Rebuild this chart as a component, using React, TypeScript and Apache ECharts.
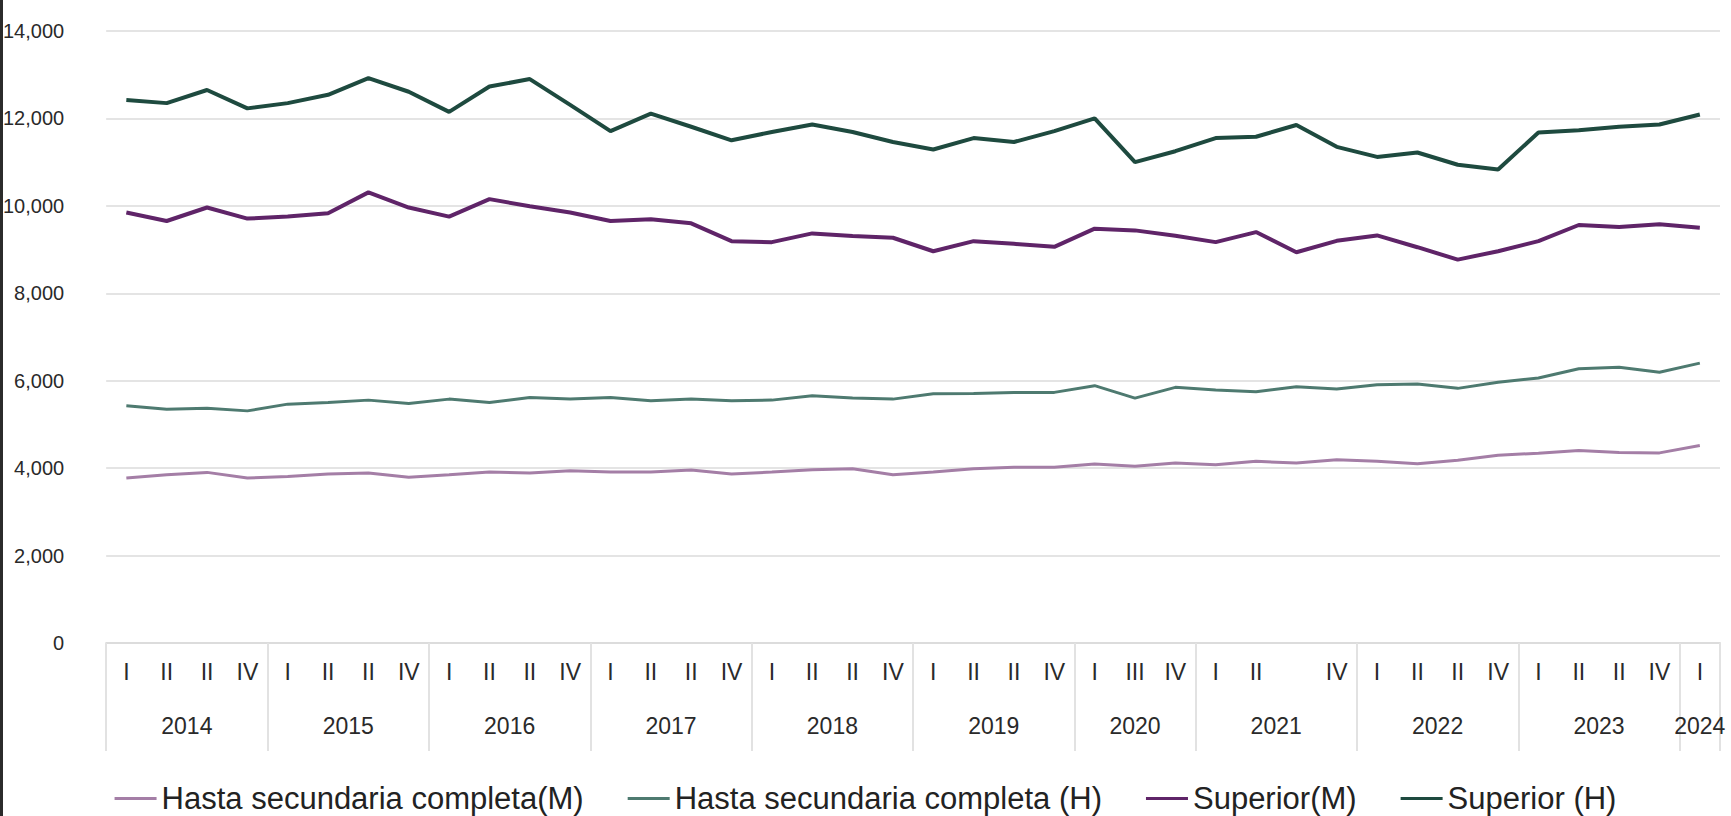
import React, { useEffect, useRef } from "react";
import * as echarts from "echarts";

// ---- Data ----
const years = ["2014", "2015", "2016", "2017", "2018", "2019", "2020", "2021", "2022", "2023", "2024"];
const quarterLabels: string[][] = [
  ["I", "II", "II", "IV"],
  ["I", "II", "II", "IV"],
  ["I", "II", "II", "IV"],
  ["I", "II", "II", "IV"],
  ["I", "II", "II", "IV"],
  ["I", "II", "II", "IV"],
  ["I", "III", "IV"],
  ["I", "II", "", "IV"],
  ["I", "II", "II", "IV"],
  ["I", "II", "II", "IV"],
  ["I"],
];

const hastaSecM = [
  3772, 3849, 3903, 3772, 3810, 3864, 3887, 3790, 3849, 3911,
  3887, 3941, 3911, 3911, 3957, 3864, 3911, 3964, 3987, 3849,
  3911, 3987, 4018, 4018, 4095, 4041, 4118, 4079, 4156, 4118,
  4190, 4156, 4102, 4179, 4295, 4341, 4403, 4357, 4349, 4518,
];
const hastaSecH = [
  5425, 5348, 5371, 5310, 5464, 5502, 5556, 5479, 5579, 5502,
  5617, 5579, 5617, 5541, 5579, 5541, 5556, 5656, 5602, 5579,
  5700, 5710, 5733, 5733, 5887, 5602, 5848, 5787, 5748, 5864,
  5810, 5910, 5925, 5825, 5964, 6064, 6272, 6310, 6195, 6403,
];
const superiorM = [
  9847, 9654, 9962, 9708, 9754, 9831, 10308, 9962, 9754, 10154,
  9990, 9847, 9654, 9692, 9600, 9193, 9170, 9370, 9308, 9270,
  8962, 9193, 9131, 9062, 9478, 9439, 9316, 9170, 9400, 8939,
  9200, 9323, 9054, 8770, 8962, 9193, 9562, 9516, 9578, 9500,
];
const superiorH = [
  12420, 12350, 12650, 12230, 12350, 12540, 12920, 12610, 12150, 12730,
  12900, 12310, 11710, 12110, 11810, 11500, 11690, 11860, 11690, 11460,
  11290, 11550, 11460, 11710, 12000, 11000, 11250, 11550, 11580, 11850,
  11350, 11120, 11220, 10940, 10830, 11680, 11730, 11810, 11860, 12090,
];

const seriesNames = [
  "Hasta secundaria completa(M)",
  "Hasta secundaria completa (H)",
  "Superior(M)",
  "Superior (H)",
];
const seriesColors = ["#a47ea6", "#4e7a70", "#5f2468", "#1e4a3f"];

const FONT = "'Liberation Sans', Arial, sans-serif";

export default function App() {
  const ref = useRef<HTMLDivElement>(null);

  useEffect(() => {
    document.body.style.margin = "0";
    if (!ref.current) return;
    const chart = echarts.init(ref.current, undefined, { renderer: "svg" });

    // Build quarter categories
    const categories: string[] = [];
    const catLabel: string[] = [];
    const boundaries: number[] = [0];
    const centers: Record<number, string> = {};
    let count = 0;
    years.forEach((y, yi) => {
      const start = count;
      quarterLabels[yi].forEach((q, qi) => {
        categories.push(`${y}-${qi}`);
        catLabel.push(q);
        count++;
      });
      boundaries.push(count * 2);
      centers[start + count] = y;
    });
    const halfSlots: string[] = [];
    for (let i = 0; i <= count * 2; i++) halfSlots.push("h" + i);
    const boundarySet = new Set(boundaries);

    const dataSets = [hastaSecM, hastaSecH, superiorM, superiorH];
    const widths = [3, 3, 4, 4];

    chart.setOption({
      animation: false,
      textStyle: { fontFamily: FONT },
      grid: { left: 106, right: 11, top: 31, bottom: 173, containLabel: false },
      legend: {
        data: seriesNames,
        top: 778,
        left: "center",
        icon: "rect",
        itemWidth: 42,
        itemHeight: 3,
        itemGap: 44,
        textStyle: { fontSize: 31, color: "#222", fontFamily: FONT },
      },
      xAxis: [
        {
          type: "category",
          position: "bottom",
          data: categories,
          boundaryGap: true,
          axisLine: { show: true, lineStyle: { color: "#dcdcdc", width: 2 } },
          axisTick: { show: false },
          axisLabel: {
            interval: 0,
            margin: 17,
            fontSize: 23,
            color: "#2a2a2a",
            fontFamily: FONT,
            formatter: (_v: string, idx: number) => catLabel[idx],
          },
          splitLine: { show: false },
        },
        {
          type: "category",
          position: "bottom",
          data: halfSlots,
          boundaryGap: false,
          axisLine: { show: false },
          axisTick: {
            show: true,
            interval: (idx: number) => boundarySet.has(idx),
            length: 108,
            lineStyle: { color: "#e2e2e2", width: 2 },
          },
          axisLabel: {
            interval: (idx: number) => centers[idx] !== undefined,
            margin: 71,
            fontSize: 23,
            color: "#2a2a2a",
            fontFamily: FONT,
            formatter: (_v: string, idx: number) => centers[idx] ?? "",
          },
          splitLine: { show: false },
        },
      ],
      yAxis: {
        type: "value",
        min: 0,
        max: 14000,
        interval: 2000,
        axisLine: { show: false },
        axisTick: { show: false },
        axisLabel: {
          margin: 42,
          fontSize: 20,
          color: "#2a2a2a",
          fontFamily: FONT,
          formatter: (v: number) => v.toLocaleString("en-US"),
        },
        splitLine: { show: true, lineStyle: { color: "#e4e4e4", width: 2 } },
      },
      graphic: [
        {
          type: "rect",
          left: 0,
          top: 0,
          shape: { x: 0, y: 0, width: 3, height: 816 },
          style: { fill: "#2b2b2b" },
        },
      ],
      series: dataSets.map((d, i) => ({
        name: seriesNames[i],
        type: "line",
        xAxisIndex: 0,
        data: d,
        symbol: "none",
        smooth: false,
        lineStyle: { color: seriesColors[i], width: widths[i] },
        itemStyle: { color: seriesColors[i] },
      })),
    });

    return () => chart.dispose();
  }, []);

  return <div ref={ref} style={{ width: 1731, height: 816 }} />;
}
